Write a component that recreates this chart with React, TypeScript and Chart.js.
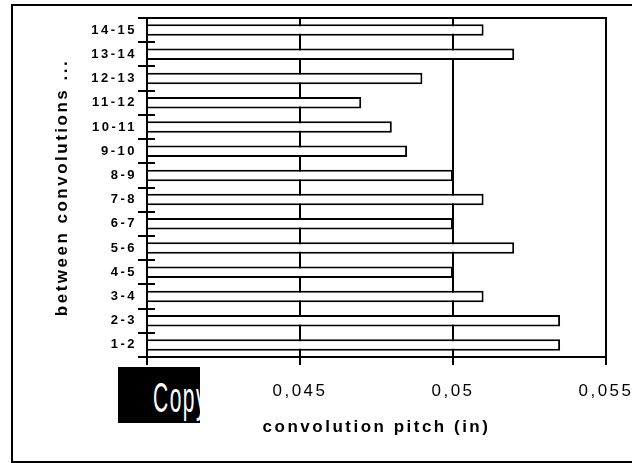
import React, { useEffect, useRef } from "react";
import { Chart, registerables } from "chart.js";

Chart.register(...registerables);

const categories = ["1-2", "2-3", "3-4", "4-5", "5-6", "6-7", "7-8", "8-9", "9-10", "10-11", "11-12", "12-13", "13-14", "14-15"];
const pitchValues = [0.0535, 0.0535, 0.051, 0.05, 0.052, 0.05, 0.051, 0.05, 0.0485, 0.048, 0.047, 0.049, 0.052, 0.051];
const xMin = 0.04;
const xMax = 0.055;
const xStep = 0.005;
const xTitle = "convolution pitch (in)";
const yTitle = "between convolutions ...";

const FONT = '"Liberation Sans", Arial, sans-serif';

const spacingPlugin = {
  id: "spacing",
  beforeLayout(chart: any) {
    chart.ctx.letterSpacing = "2.5px";
  },
  beforeDraw(chart: any) {
    chart.ctx.letterSpacing = "2.5px";
  },
};

const framePlugin = {
  id: "frame",
  afterDraw(chart: any) {
    const { ctx, chartArea } = chart;
    const { left, top, right, bottom } = chartArea;
    const y = chart.scales.y;
    ctx.save();
    ctx.strokeStyle = "#000";
    ctx.lineWidth = 2;
    ctx.strokeRect(left, top, right - left, bottom - top);
    for (let i = 0; i <= categories.length; i++) {
      const py = Math.round(y.getPixelForValue(i - 0.5));
      ctx.beginPath();
      ctx.moveTo(left - 9, py);
      ctx.lineTo(left + 8, py);
      ctx.stroke();
    }
    ctx.restore();
  },
};

export default function App() {
  const ref = useRef<HTMLCanvasElement | null>(null);

  useEffect(() => {
    if (!ref.current) return;
    const chart = new Chart(ref.current, {
      type: "bar",
      data: {
        labels: categories,
        datasets: [
          {
            data: pitchValues,
            base: xMin,
            backgroundColor: "#ffffff",
            borderColor: "#000000",
            borderWidth: 2,
            borderSkipped: "start",
            barPercentage: 0.95,
            categoryPercentage: 0.5,
          } as any,
        ],
      },
      options: {
        indexAxis: "y",
        animation: false,
        responsive: false,
        maintainAspectRatio: false,
        devicePixelRatio: 1,
        layout: { padding: { left: 48, top: 18, right: 26, bottom: 21 } },
        plugins: {
          legend: { display: false },
          tooltip: { enabled: false },
        },
        scales: {
          x: {
            type: "linear",
            min: xMin,
            max: xMax,
            ticks: {
              stepSize: xStep,
              color: "#000",
              padding: 16,
              font: { family: FONT, size: 17 },
              callback: (v: any) => String(Math.round(Number(v) * 1000) / 1000).replace(".", ","),
            },
            grid: {
              color: "#000",
              lineWidth: 2,
              tickLength: 8,
              tickWidth: 2,
              tickColor: "#000",
            },
            border: { display: true, color: "#000", width: 2 },
            title: {
              display: true,
              text: xTitle,
              color: "#000",
              padding: { top: 4, bottom: 4 },
              font: { family: FONT, size: 17, weight: "bold" },
            },
            afterFit: (s: any) => {
              s.height = 85;
              s.paddingLeft = 0;
              s.paddingRight = 0;
            },
          },
          y: {
            type: "category",
            reverse: true,
            offset: true,
            ticks: {
              color: "#000",
              padding: 10,
              font: { family: FONT, size: 13, weight: "bold" },
            },
            grid: { display: true, drawOnChartArea: false, drawTicks: false },
            border: { display: true, color: "#000", width: 2 },
            title: {
              display: true,
              text: yTitle,
              color: "#000",
              padding: { top: 4, bottom: 4 },
              font: { family: FONT, size: 17, weight: "bold" },
            },
            afterFit: (s: any) => {
              s.width = 99;
              s.paddingTop = 0;
              s.paddingBottom = 0;
            },
          },
        },
      } as any,
      plugins: [spacingPlugin, framePlugin],
    });
    return () => chart.destroy();
  }, []);

  return (
    <div>
      <canvas
        ref={ref}
        width={632}
        height={463}
        style={{ position: "absolute", left: 0, top: 0, width: 632, height: 463 }}
      />
      <div
        style={{
          position: "absolute",
          left: 11,
          top: 4,
          width: 640,
          height: 455,
          borderTop: "2px solid #000",
          borderLeft: "2px solid #000",
          borderBottom: "2px solid #000",
          pointerEvents: "none",
        }}
      />
      <div
        style={{
          position: "absolute",
          left: 118,
          top: 367,
          width: 82,
          height: 56,
          background: "#000",
          overflow: "hidden",
        }}
      >
        <span
          style={{
            position: "absolute",
            left: 35,
            top: 10,
            fontFamily: FONT,
            fontSize: 42,
            lineHeight: "42px",
            letterSpacing: "3px",
            color: "#fff",
            transform: "scaleX(0.5)",
            transformOrigin: "left top",
            whiteSpace: "nowrap",
          }}
        >
          Copy
        </span>
      </div>
    </div>
  );
}
